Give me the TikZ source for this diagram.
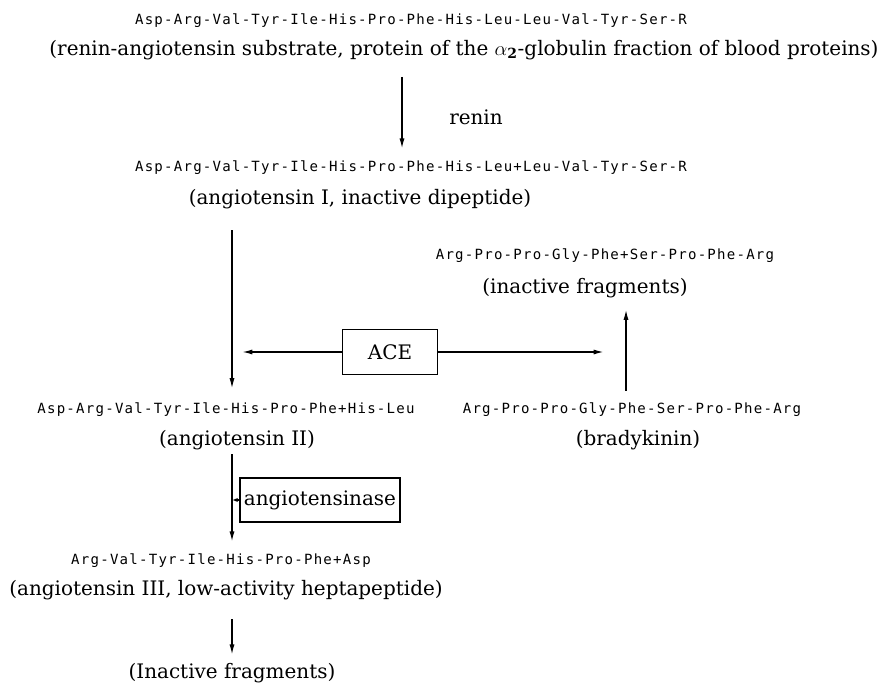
\documentclass[tikz,border=0pt]{standalone}
\usepackage{fontspec}
\setmainfont{DejaVu Serif}
\newfontfamily\pepfont{DejaVu Sans Mono}[LetterSpace=8.8]
\usetikzlibrary{arrows.meta,calc}

\begin{document}
\begin{tikzpicture}[x=0.025cm,y=-0.025cm,
	pep/.style={inner sep=0pt,font={\pepfont\fontsize{10}{11}\selectfont}},
	lbl/.style={inner sep=0pt,font={\fontsize{14.2}{16}\selectfont}},
	enzbox/.style={draw,line width=1.1pt,inner sep=0pt,font={\fontsize{14.2}{16}\selectfont}},
	arr/.style={line width=1.1pt,-{Latex[length=7.5pt,width=3.6pt]}}]
\useasboundingbox (0,0) rectangle (878,682);
\coordinate (colA) at (402,0);
\coordinate (colL) at (232,0);
\coordinate (colR) at (626,0);

\node[pep] (sub) at (411,21) {Asp-Arg-Val-Tyr-Ile-His-Pro-Phe-His-Leu-Leu-Val-Tyr-Ser-R};
\node[lbl] (subname) at (464,50) {(renin-angiotensin substrate, protein of the $\alpha_{\mathbf{2}}$-globulin fraction of blood proteins)};
\node[lbl] (renin) at (476,117) {renin};
\node[pep] (angI) at (411,168) {Asp-Arg-Val-Tyr-Ile-His-Pro-Phe-His-Leu+Leu-Val-Tyr-Ser-R};
\node[lbl] (angIname) at (360,199) {(angiotensin I, inactive dipeptide)};
\node[pep] (frag) at (605,256) {Arg-Pro-Pro-Gly-Phe+Ser-Pro-Phe-Arg};
\node[lbl] (fragname) at (585,288) {(inactive fragments)};
\node[enzbox,minimum width=2.375cm,minimum height=1.125cm] (ace) at (390,352) {ACE};
\node[pep] (angII) at (226,410) {Asp-Arg-Val-Tyr-Ile-His-Pro-Phe+His-Leu};
\node[pep] (brady) at (632,410) {Arg-Pro-Pro-Gly-Phe-Ser-Pro-Phe-Arg};
\node[lbl] (angIIname) at (237,440) {(angiotensin II)};
\node[lbl] (bradyname) at (638,440) {(bradykinin)};
\node[enzbox,minimum width=4cm,minimum height=1.1cm] (ase) at (320,500) {angiotensinase};
\node[pep] (angIII) at (221,561) {Arg-Val-Tyr-Ile-His-Pro-Phe+Asp};
\node[lbl] (angIIIname) at (226,590) {(angiotensin III, low-activity heptapeptide)};
\node[lbl] (endfrag) at (232,673) {(Inactive fragments)};

\draw[arr,shorten <=12pt,shorten >=8.5pt] (subname.south -| colA) -- (angI.north -| colA);
\draw[arr,shorten <=15pt,shorten >=10pt] (angIname.south -| colL) -- (angII.north -| colL);
\draw[arr,shorten >=7pt] (ace.west) -- (ace.west -| colL);
\draw[arr,shorten >=15.6pt] (ace.east) -- (ace.east -| colR);
\draw[arr,shorten <=8.5pt,shorten >=8pt] (brady.north -| colR) -- (fragname.south -| colR);
\draw[arr,shorten <=3pt,shorten >=8.5pt] (angIIname.south -| colL) -- (angIII.north -| colL);
\draw[line width=0.8pt,-{Latex[length=4pt,width=3pt]}] (ase.west) -- (ase.west -| colL);
\draw[arr,shorten <=13.5pt,shorten >=5.7pt] (angIIIname.south -| colL) -- (endfrag.north -| colL);
\end{tikzpicture}
\end{document}
